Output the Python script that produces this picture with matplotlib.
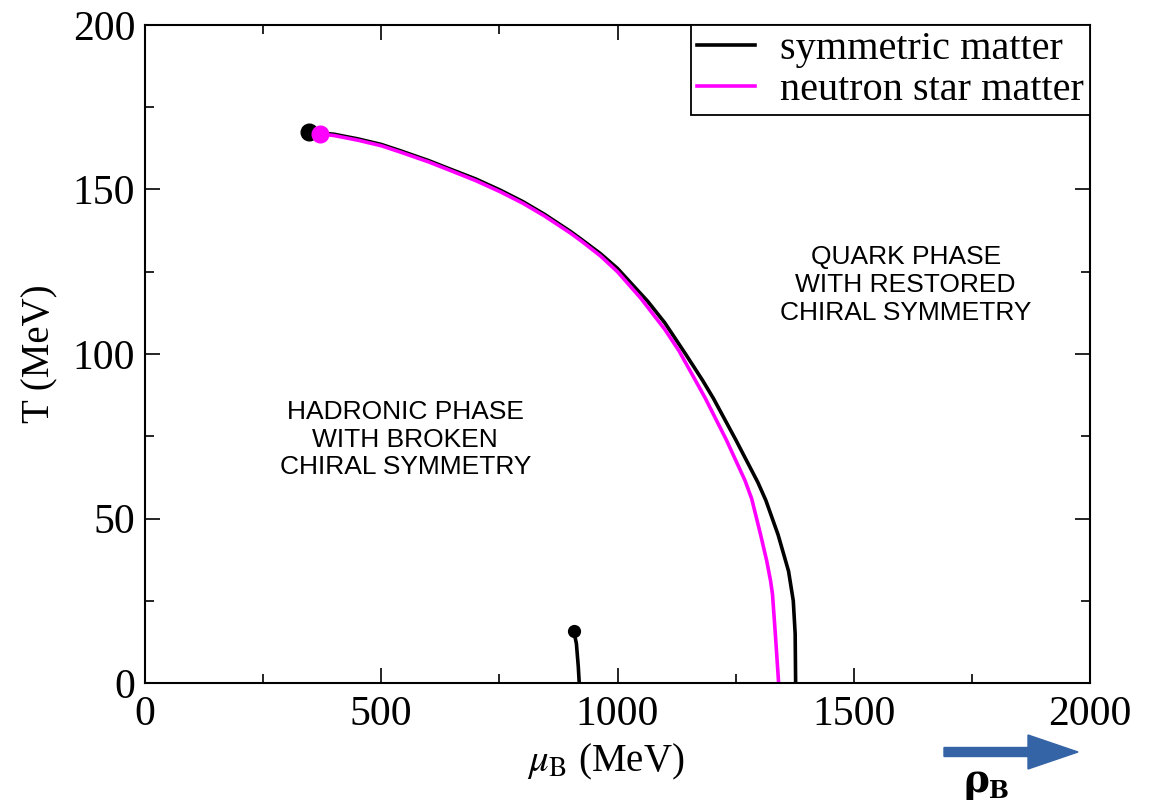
import matplotlib
matplotlib.use("Agg")
import matplotlib.pyplot as plt
from matplotlib.patches import FancyArrow
from matplotlib.transforms import IdentityTransform
from matplotlib.ticker import MultipleLocator

# phase boundary, symmetric matter (mu_B, T) in MeV
sym_mu = [347, 400, 450, 500, 540, 600, 646, 700, 752, 800, 845, 900, 922, 964, 1000, 1064,
          1100, 1144, 1180, 1203, 1250, 1297, 1314, 1340, 1362, 1372, 1376, 1377]
sym_T = [167.5, 166.8, 165.4, 163.7, 161.8, 158.8, 156.2, 153.2, 149.8, 146.3, 142.5, 137.3, 135.0,
         130.5, 126.0, 116.0, 109.5, 100.0, 92.0, 86.5, 74.0, 61.0, 55.5, 45.0, 34.0, 25.0, 15.0, 0.0]

# phase boundary, neutron star matter
ns_mu = [371, 400, 450, 500, 540, 600, 646, 700, 752, 800, 845, 900, 922, 964, 1000, 1049,
         1100, 1130, 1161, 1186, 1230, 1270, 1284, 1303, 1316, 1324, 1328, 1334, 1341]
ns_T = [166.9, 166.4, 165.0, 163.3, 161.4, 158.4, 155.8, 152.7, 149.3, 145.8, 142.0, 136.8, 134.5,
        129.8, 125.0, 117.0, 107.5, 101.0, 93.0, 86.5, 74.0, 61.5, 56.0, 45.0, 37.0, 31.0, 27.0, 15.0, 0.0]

# liquid-gas line (symmetric matter)
lg_mu = [907, 910, 913, 917, 919]
lg_T = [15.8, 14.0, 12.0, 5.0, 0.0]

plt.rcParams['font.family'] = ['Liberation Serif', 'DejaVu Serif']
plt.rcParams['mathtext.fontset'] = 'stix'

fig = plt.figure(figsize=(11.51, 8.05), dpi=100)
ax = fig.add_axes([145/1151, 1-683/805, (1090-145)/1151, (683-25)/805])

ax.plot(sym_mu, sym_T, color='black', lw=2.6, label='symmetric matter', solid_joinstyle='round')
ax.plot(ns_mu, ns_T, color='#ff00ff', lw=2.6, label='neutron star matter', solid_joinstyle='round')
ax.plot(lg_mu, lg_T, color='black', lw=2.6)
ax.plot(sym_mu[0], sym_T[0], 'o', color='black', ms=12)
ax.plot(ns_mu[0], ns_T[0], 'o', color='#ff00ff', ms=12)
ax.plot(lg_mu[0], lg_T[0], 'o', color='black', ms=8.5)

ax.set_xlim(0, 2000)
ax.set_ylim(0, 200)
ax.xaxis.set_major_locator(MultipleLocator(500))
ax.xaxis.set_minor_locator(MultipleLocator(250))
ax.yaxis.set_major_locator(MultipleLocator(50))
ax.yaxis.set_minor_locator(MultipleLocator(25))
ax.tick_params(which='both', direction='in', top=True, right=True, width=1.2)
ax.tick_params(which='major', length=11, labelsize=30)
ax.tick_params(axis='x', which='major', pad=9)
ax.tick_params(axis='y', which='major', pad=7)
ax.tick_params(which='minor', length=6.5)
for s in ax.spines.values():
    s.set_linewidth(1.5)

ax.set_xlabel(r'$\mu_{\rm B}$ (MeV)', fontsize=28)
ax.xaxis.set_label_coords(0.487, -0.09)
ax.set_ylabel('T (MeV)', fontsize=28, labelpad=10)

leg = ax.legend(loc='upper right', fontsize=29, borderaxespad=0, fancybox=False,
                framealpha=1, edgecolor='black', handlelength=1.45, handletextpad=0.62,
                borderpad=0.15, labelspacing=0.1)
leg.get_frame().set_linewidth(1.3)

ax.text(551, 74, 'HADRONIC PHASE\nWITH BROKEN\nCHIRAL SYMMETRY', ha='center', va='center',
        fontsize=19, family='Liberation Sans', linespacing=1.2)
ax.text(1610, 121, 'QUARK PHASE\nWITH RESTORED\nCHIRAL SYMMETRY', ha='center', va='center',
        fontsize=19, family='Liberation Sans', linespacing=1.2)

# density arrow below the axis
arr = FancyArrow(944, 805-752, 84, 0, width=9, head_width=34, head_length=50,
                 length_includes_head=False, color='#3464a6', transform=IdentityTransform())
fig.add_artist(arr)
fig.text(963/1151, 1-792/805, 'ρ', fontsize=28, fontweight='bold', family='DejaVu Serif')
fig.text(989/1151, 1-798/805, 'B', fontsize=17, fontweight='bold', family='DejaVu Serif')

fig.savefig('out.png', dpi=100)
